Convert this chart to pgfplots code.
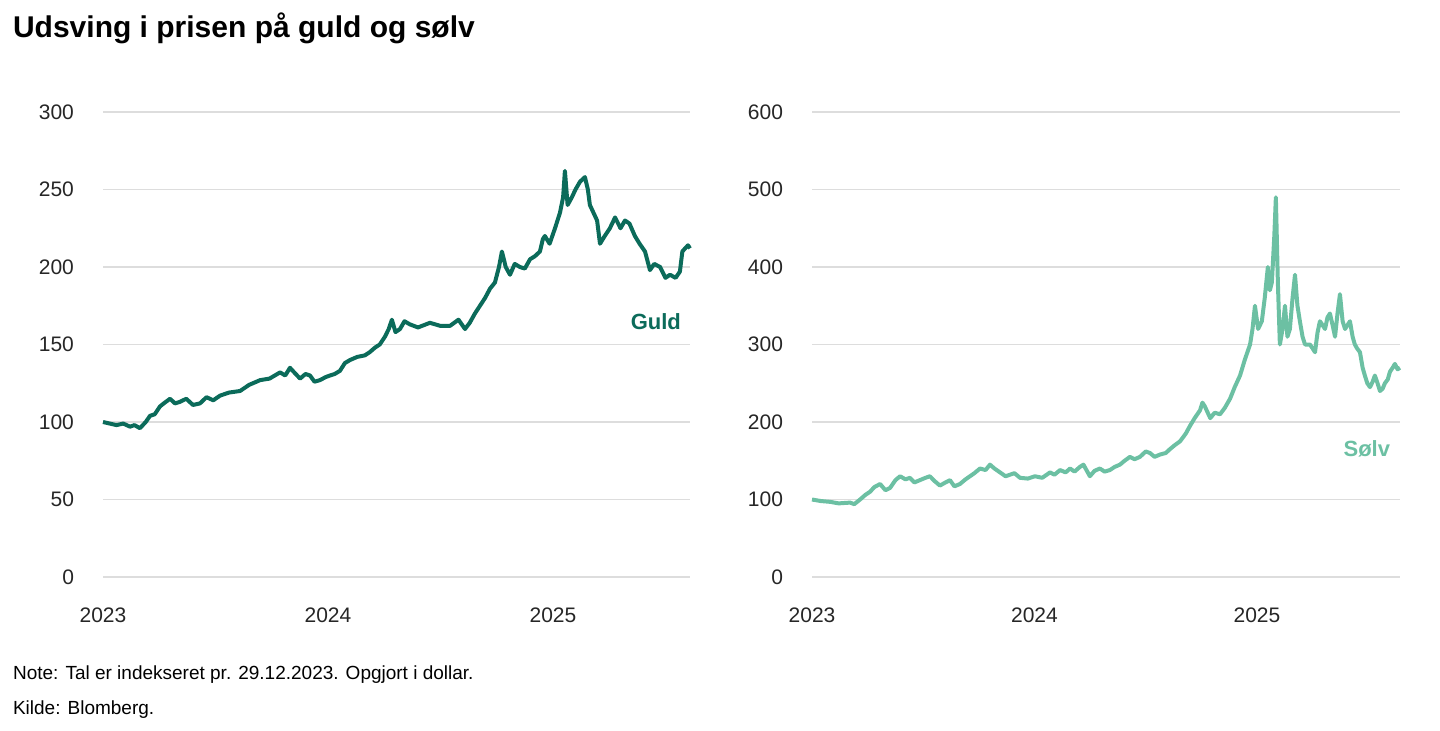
\documentclass[border=0pt]{standalone}
\usepackage{pgfplots}
\pgfplotsset{compat=1.18}
\usepackage{fontspec}
\setmainfont{Liberation Sans}
\definecolor{gold}{HTML}{0B6B5A}
\definecolor{silv}{HTML}{6CC0A3}
\definecolor{gridc}{HTML}{DDDDDD}
\pgfplotsset{
 common/.style={scale only axis, height=232.5pt, ymin=0, axis line style={draw=none},
  xmin=0, xtick={0,1,2}, xticklabels={2023,2024,2025},
  ymajorgrids, grid style={gridc, line width=0.8pt},
  tick style={draw=none}, clip=false,
  /pgf/number format/assume math mode=true,
  ticklabel style={font=\fontsize{10.5}{12}\selectfont, text=black!85},
  yticklabel style={xshift=-11pt},
  xticklabel style={yshift=-12pt},
  every axis plot/.append style={line width=2pt, line join=round}},
}
\begin{document}
\begin{tikzpicture}[x=1pt,y=1pt]
\path (0,0) rectangle (720,365);
\node[anchor=west,font=\bfseries\fontsize{15}{18}\selectfont] at (3,351) {Udsving i prisen på guld og sølv};
\node[anchor=west,font=\fontsize{9.5}{11}\selectfont] at (3,27.5) {Note: Tal er indekseret pr. 29.12.2023. Opgjort i dollar.};
\node[anchor=west,font=\fontsize{9.5}{11}\selectfont] at (3,10) {Kilde: Blomberg.};
\begin{axis}[common, at={(51.5pt,76.5pt)}, width=293.5pt, xmax=2.609, ymax=300, ytick={0,50,...,300}]
\addplot[gold] coordinates {(0,100)(0.03,99)(0.06,98)(0.09,99)(0.12,97)(0.14,98)(0.164,96)(0.19,100)(0.209,104)(0.23,105)(0.253,110)(0.27,112)(0.298,115)(0.32,112)(0.342,113)(0.37,115)(0.4,111)(0.431,112)(0.46,116)(0.49,114)(0.52,117)(0.56,119)(0.609,120)(0.65,124)(0.698,127)(0.74,128)(0.787,132)(0.81,130)(0.831,135)(0.85,132)(0.876,128)(0.9,131)(0.92,130)(0.94,126)(0.964,127)(0.99,129)(1.009,130)(1.03,131)(1.053,133)(1.075,138)(1.098,140)(1.13,142)(1.164,143)(1.185,145)(1.209,148)(1.23,150)(1.253,155)(1.27,160)(1.284,166)(1.3,158)(1.32,160)(1.34,165)(1.364,163)(1.4,161)(1.453,164)(1.5,162)(1.542,162)(1.58,166)(1.609,160)(1.63,164)(1.653,170)(1.698,180)(1.72,186)(1.742,190)(1.76,200)(1.773,210)(1.79,200)(1.809,195)(1.83,202)(1.853,200)(1.875,199)(1.898,205)(1.92,207)(1.942,210)(1.955,218)(1.964,220)(1.985,215)(2.009,225)(2.02,230)(2.031,235)(2.045,245)(2.053,262)(2.065,240)(2.084,245)(2.1,250)(2.12,255)(2.142,258)(2.155,250)(2.164,240)(2.18,235)(2.196,230)(2.209,215)(2.23,220)(2.253,225)(2.276,232)(2.3,225)(2.32,230)(2.34,228)(2.364,220)(2.385,215)(2.409,210)(2.42,204)(2.431,198)(2.45,202)(2.476,200)(2.5,193)(2.52,195)(2.545,193)(2.564,197)(2.575,210)(2.587,212)(2.6,214)(2.609,212)};
\node[anchor=east,text=gold,font=\bfseries\fontsize{11}{13}\selectfont] at (axis cs:2.6,165) {Guld};
\end{axis}
\begin{axis}[common, at={(406pt,76.5pt)}, width=294pt, xmax=2.643, ymax=600, ytick={0,100,...,600}]
\addplot[silv] coordinates {(0,100)(0.04,98)(0.081,97)(0.12,95)(0.171,96)(0.19,94)(0.216,100)(0.24,106)(0.261,110)(0.28,116)(0.306,120)(0.33,112)(0.351,115)(0.375,125)(0.396,130)(0.42,126)(0.44,128)(0.46,122)(0.485,125)(0.51,128)(0.53,130)(0.55,124)(0.575,118)(0.6,122)(0.62,125)(0.64,117)(0.665,120)(0.69,126)(0.71,130)(0.73,134)(0.755,140)(0.78,138)(0.8,145)(0.82,140)(0.845,135)(0.87,130)(0.89,132)(0.91,134)(0.935,128)(0.97,127)(1.002,130)(1.035,128)(1.07,135)(1.09,132)(1.115,138)(1.14,135)(1.16,140)(1.18,136)(1.204,142)(1.22,145)(1.249,130)(1.27,137)(1.294,140)(1.315,136)(1.339,138)(1.36,142)(1.384,145)(1.405,150)(1.429,155)(1.45,152)(1.474,155)(1.5,162)(1.519,160)(1.54,155)(1.564,158)(1.59,160)(1.609,165)(1.63,170)(1.654,175)(1.68,185)(1.699,195)(1.72,205)(1.744,215)(1.755,225)(1.766,220)(1.79,205)(1.81,212)(1.834,210)(1.855,218)(1.879,230)(1.9,245)(1.924,260)(1.945,280)(1.969,300)(1.98,320)(1.991,350)(2.005,320)(2.022,330)(2.035,360)(2.049,400)(2.058,370)(2.067,380)(2.078,440)(2.085,490)(2.094,380)(2.103,300)(2.115,320)(2.126,350)(2.137,310)(2.148,320)(2.16,360)(2.171,390)(2.182,350)(2.193,330)(2.205,310)(2.216,300)(2.238,300)(2.25,295)(2.261,290)(2.272,315)(2.283,330)(2.295,325)(2.306,320)(2.317,335)(2.328,340)(2.34,325)(2.351,310)(2.362,340)(2.373,365)(2.385,330)(2.396,320)(2.407,325)(2.418,330)(2.43,310)(2.44,300)(2.45,295)(2.463,290)(2.475,270)(2.485,260)(2.496,250)(2.508,245)(2.52,252)(2.53,260)(2.542,250)(2.553,240)(2.565,243)(2.575,250)(2.588,255)(2.598,265)(2.61,270)(2.62,275)(2.632,268)(2.643,270)};
\node[anchor=east,text=silv,font=\bfseries\fontsize{11}{13}\selectfont] at (axis cs:2.63,165) {Sølv};
\end{axis}
\end{tikzpicture}
\end{document}
